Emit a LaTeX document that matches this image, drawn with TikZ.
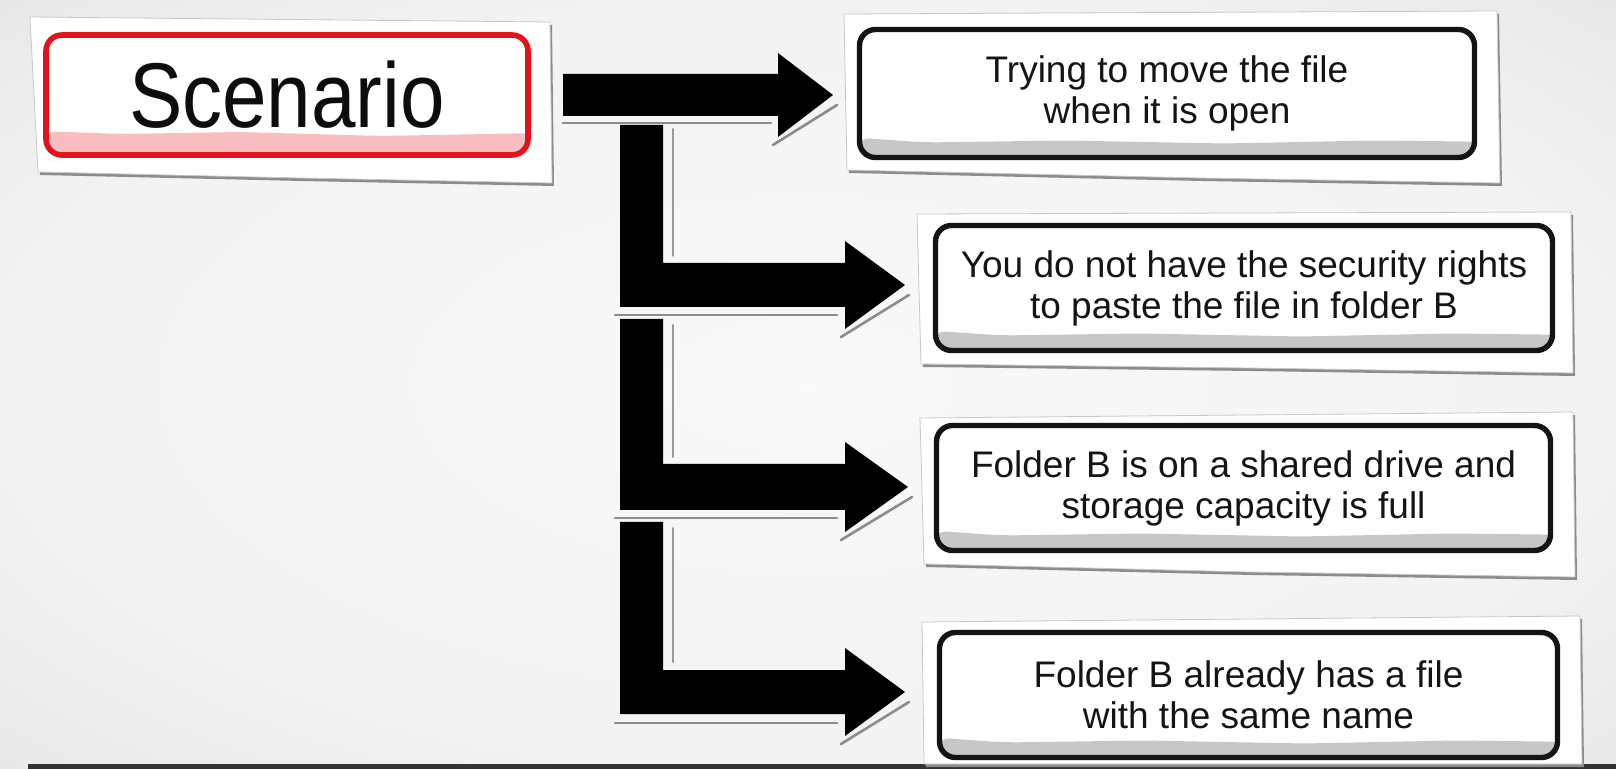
\documentclass[tikz,border=0pt]{standalone}
\usepackage{fontspec}
\setmainfont{Liberation Sans}
\usetikzlibrary{calc}
\definecolor{bgA}{gray}{0.975}
\definecolor{bgB}{gray}{0.95}
\definecolor{bgC}{gray}{0.85}
\definecolor{bgD}{gray}{0.66}
\definecolor{scred}{HTML}{E2131B}
\pgfdeclareradialshading{bgrad}{\pgfpoint{0bp}{0bp}}{color(0bp)=(bgA); color(25bp)=(bgB); color(50bp)=(bgC); color(72bp)=(bgD)}
\newcommand\rspaper[1]{\fill[black!45, shift={(2,3)}] #1; \fill[white] #1; \draw[black!22, line width=0.4pt] #1;}
\begin{document}
\begin{tikzpicture}[x=0.5pt,y=-0.5pt,
  cbox/.style={draw=black!92, line width=2.7pt, rounded corners=8pt, fill=white,
    inner sep=0pt, outer sep=0pt, align=center, text=black!92,
    font=\fontsize{18.5}{20.5}\selectfont,
    path picture={\fill[black!22] ($(path picture bounding box.south west)+(-5,-20)$)
      -- ++(70,5) -- ++(140,-2) -- ++(160,3) -- ++(150,-3) -- ++(180,2)
      |- ($(path picture bounding box.south west)+(-5,5)$) -- cycle;}},
  sbox/.style={draw=scred, line width=2.8pt, rounded corners=8pt, fill=white,
    inner sep=0pt, outer sep=0pt, align=center, text=black!95,
    font=\fontsize{46}{50}\selectfont,
    path picture={\fill[scred!28] ($(path picture bounding box.south west)+(-5,-24)$)
      -- ++(80,3) -- ++(120,-2) -- ++(140,4) -- ++(160,-3) |- ($(path picture bounding box.south west)+(-5,5)$) -- cycle;}},
  blk/.style={fill=black},
  shd/.style={draw=black!45, line width=1.3pt, line cap=round},
  inl/.style={draw=black!40, line width=1pt, line cap=round}]
\useasboundingbox (0,0) rectangle (1616,769);
\shade[shading=bgrad] (0,0) rectangle (1616,769);
\fill[black!80] (28,764) rectangle (1616,769);

% paper cut-outs
\rspaper{(30,17) -- (550,22) -- (552,183) -- (300,178) -- (38,172) -- cycle}
\rspaper{(844,14) -- (1497,11) -- (1500,183) -- (1200,178) -- (847,170) -- cycle}
\rspaper{(917,214) -- (1571,212) -- (1573,373) -- (1250,368) -- (921,364) -- cycle}
\rspaper{(920,418) -- (1573,412) -- (1575,577) -- (1250,572) -- (924,564) -- cycle}
\rspaper{(922,622) -- (1580,616) -- (1582,764) -- (924,764) -- cycle}

% boxes
\node[sbox, minimum width=241pt, minimum height=60pt] (s) at (287,95) {\scalebox{0.87}[1]{Scenario}};
\node[cbox, minimum width=307.5pt, minimum height=64pt] (b1) at (1167,93.5) {Trying to move the file\\when it is open};
\node[cbox, minimum width=308.5pt, minimum height=62.5pt] (b2) at (1244,288) {You do not have the security rights\\to paste the file in folder B};
\node[cbox, minimum width=307pt, minimum height=62.5pt] (b3) at (1243.5,488) {Folder B is on a shared drive and\\storage capacity is full};
\node[cbox, minimum width=309pt, minimum height=62.5pt] (b4) at (1248.5,695) {Folder B already has a file\\with the same name};

% arrow anchor points
\coordinate (o1) at ($(s.east)+(35,0)$);
\coordinate (t1) at ($(b1.west)+(-26.5,1.5)$);
\coordinate (t2) at ($(b2.west)+(-30.5,-3)$);
\coordinate (t3) at ($(b3.west)+(-28.5,-1)$);
\coordinate (t4) at ($(b4.west)+(-34.5,-3)$);
\coordinate (o2) at ($(o1)+(57,30)$);
\coordinate (o3) at ($(t2)+(-285,34)$);
\coordinate (o4) at ($(t3)+(-288,35)$);

% shadows
\draw[shd] ($(o1)+(0,28)$) -- ($(t1)+(-62,28)$);
\draw[shd] ($(t1)+(-60,50)$) -- ($(t1)+(4,10)$);
\draw[shd] ($(t2)+(-290,30)$) -- ($(t2)+(-68,30)$);
\draw[shd] ($(t2)+(-64,52)$) -- ($(t2)+(4,10)$);
\draw[shd] ($(t3)+(-293,31)$) -- ($(t3)+(-71,31)$);
\draw[shd] ($(t3)+(-67,53)$) -- ($(t3)+(4,10)$);
\draw[shd] ($(t4)+(-290,31)$) -- ($(t4)+(-68,31)$);
\draw[shd] ($(t4)+(-64,52)$) -- ($(t4)+(4,10)$);

% inner thin lines
\draw[inl] ($(o2)+(53,4)$) -- ($(t2)+(-232,-29)$);
\draw[inl] ($(o3)+(53,6)$) -- ($(t3)+(-235,-30)$);
\draw[inl] ($(o4)+(53,6)$) -- ($(t4)+(-232,-30)$);

% block arrows
\fill[blk] ($(o1)+(0,-21)$) -- ($(t1)+(-55,-21)$) -- ($(t1)+(-55,-42)$) -- (t1)
  -- ($(t1)+(-55,42)$) -- ($(t1)+(-55,21)$) -- ($(o1)+(0,21)$) -- cycle;
\fill[blk] (o2) -- ($(o2)+(43,0)$) -- ($(t2)+(-242,-22)$) -- ($(t2)+(-60,-22)$)
  -- ($(t2)+(-60,-44)$) -- (t2) -- ($(t2)+(-60,44)$) -- ($(t2)+(-60,22)$)
  -- ($(t2)+(-285,22)$) -- cycle;
\fill[blk] (o3) -- ($(o3)+(43,0)$) -- ($(t3)+(-245,-23)$) -- ($(t3)+(-63,-23)$)
  -- ($(t3)+(-63,-45)$) -- (t3) -- ($(t3)+(-63,45)$) -- ($(t3)+(-63,23)$)
  -- ($(t3)+(-288,23)$) -- cycle;
\fill[blk] (o4) -- ($(o4)+(43,0)$) -- ($(t4)+(-242,-22)$) -- ($(t4)+(-60,-22)$)
  -- ($(t4)+(-60,-44)$) -- (t4) -- ($(t4)+(-60,44)$) -- ($(t4)+(-60,22)$)
  -- ($(t4)+(-285,22)$) -- cycle;
\end{tikzpicture}
\end{document}
